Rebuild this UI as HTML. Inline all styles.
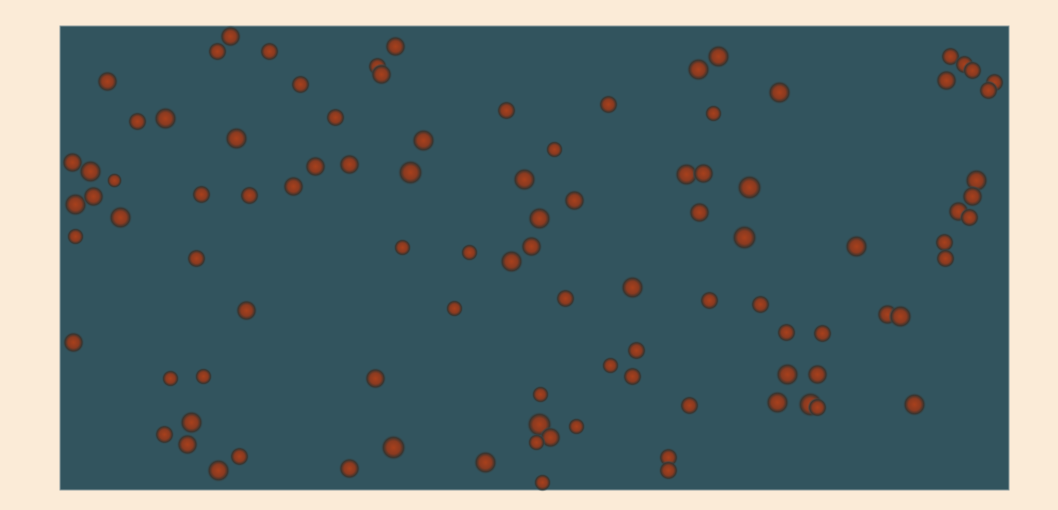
<!DOCTYPE html>
<html><head><meta charset="utf-8"><style>
html,body{margin:0;padding:0;background:#fbebd7;}
svg{display:block;font-family:"Liberation Sans",sans-serif;}
</style></head><body>
<svg id="chart" width="1058" height="510" viewBox="0 0 1058 510">
<defs>
<radialGradient id="dot" cx="50%" cy="50%" r="50%">
<stop offset="0%" stop-color="#a8401c"/>
<stop offset="50%" stop-color="#8a3a20"/>
<stop offset="78%" stop-color="#38342f"/>
<stop offset="100%" stop-color="#33555f" stop-opacity="0"/>
</radialGradient>
</defs>
<rect x="0" y="0" width="1058" height="510" fill="#fbebd7"/>
<rect x="60" y="26" width="949" height="464" fill="#32545e" stroke="#8a9a9c" stroke-width="1"/>
<g id="points"></g>
</svg>
<script>
const xValues=[170,157,209,335,47,240,317,321,638,658,890,904,912,886,934,928,719,77,105,176,275,363,446,548,653,494,12,30,54,255,289,350,464,626,643,689,916,15,33,141,189,233,60,479,514,639,898,912,909,15,136,342,409,471,451,684,796,884,885,186,394,505,572,649,700,827,840,13,726,762,110,143,315,550,576,572,727,757,480,629,717,750,757,854,131,104,127,479,490,476,516,333,179,158,289,425,608,608,482];
const yValues=[454,439,439,444,409,406,424,416,421,434,434,426,420,410,408,400,398,369,372,352,373,350,380,386,377,341,328,319,310,324,326,318,311,316,317,303,310,286,294,296,295,304,273,272,290,278,279,294,273,254,232,243,238,244,229,253,244,248,232,180,182,192,203,190,186,176,174,148,158,157,112,114,112,125,140,114,116,116,96,85,88,86,83,86,68,56,46,66,53,48,64,43,34,20,22,28,33,20,8];
const sizes=[9,8,8,9,9,8,8,9,10,10,8,8,8,9,8,8,10,8,10,10,8,10,8,8,7,7,9,10,6,9,9,11,10,10,9,11,10,10,9,8,8,9,10,10,9,9,9,9,8,7,8,7,7,9,10,11,10,8,8,9,7,8,10,8,8,9,10,9,8,8,7,7,9,7,8,8,10,9,7,8,10,11,8,10,10,8,9,11,9,7,7,11,8,10,9,10,8,8,7];
const plot={x:60.5,y:26.5,w:949,h:464};
const xDomain=[0,949], yDomain=[0,464];
function xScale(v){return plot.x+(v-xDomain[0])/(xDomain[1]-xDomain[0])*plot.w;}
function yScale(v){return plot.y+plot.h-(v-yDomain[0])/(yDomain[1]-yDomain[0])*plot.h;}
const g=document.getElementById('points');
const NS='http://www.w3.org/2000/svg';
for(let i=0;i<xValues.length;i++){
  const c=document.createElementNS(NS,'circle');
  c.setAttribute('cx',xScale(xValues[i]));
  c.setAttribute('cy',yScale(yValues[i]));
  c.setAttribute('r',sizes[i]+2);
  c.setAttribute('fill','url(#dot)');
  
  
  g.appendChild(c);
}
</script>
</body></html>
